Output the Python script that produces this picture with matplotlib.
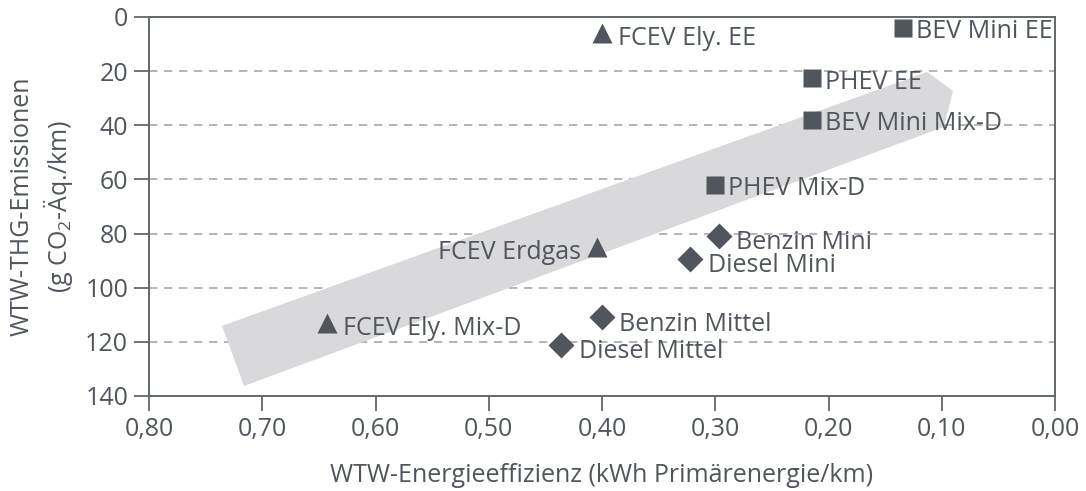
import matplotlib
matplotlib.use("Agg")
import matplotlib.pyplot as plt
from matplotlib.patches import Polygon

plt.rcParams['font.family'] = ['Open Sans', 'DejaVu Sans']
plt.rcParams['mathtext.fontset'] = 'custom'
plt.rcParams['mathtext.rm'] = 'Open Sans'
plt.rcParams['mathtext.it'] = 'Open Sans'

# --- data ---
tri_labels = ["FCEV Ely. EE", "FCEV Erdgas", "FCEV Ely. Mix-D"]
tri_x = [0.400, 0.404, 0.643]
tri_y = [6, 85, 113]

sq_labels = ["BEV Mini EE", "PHEV EE", "BEV Mini Mix-D", "PHEV Mix-D"]
sq_x = [0.134, 0.215, 0.215, 0.300]
sq_y = [4, 22.7, 38, 62]

dia_labels = ["Benzin Mini", "Diesel Mini", "Benzin Mittel", "Diesel Mittel"]
dia_x = [0.297, 0.322, 0.400, 0.436]
dia_y = [81, 89.5, 111, 121]

band_x = [0.7355, 0.7161, 0.098, 0.090, 0.113]
band_y = [114.1, 136.3, 40.6, 27.3, 20.3]

x_ticks = [0.8, 0.7, 0.6, 0.5, 0.4, 0.3, 0.2, 0.1, 0.0]
x_ticklabels = ["0,80", "0,70", "0,60", "0,50", "0,40", "0,30", "0,20", "0,10", "0,00"]
y_ticks = [0, 20, 40, 60, 80, 100, 120, 140]

dark = "#50555e"
axcol = "#62676e"
gridcol = "#a6a8ab"
bandcol = "#d9d9db"
fs = 18

fig = plt.figure(figsize=(10.86, 4.91), dpi=100)
ax = fig.add_axes([149/1086, 1-396/491, (1055-149)/1086, (396-17)/491])

ax.set_xlim(0.8, 0.0)
ax.set_ylim(140, 0)

band = Polygon(list(zip(band_x, band_y)), closed=True, facecolor=bandcol, edgecolor='none', zorder=2)
ax.add_patch(band)

for yv in y_ticks[1:-1]:
    ax.axhline(yv, color=gridcol, lw=1.2, ls=(0, (5, 4)), zorder=1)

ax.plot(tri_x, tri_y, ls='none', marker='^', ms=15, color=dark, mec='none', zorder=4)
ax.plot(sq_x, sq_y, ls='none', marker='s', ms=13, color=dark, mec='none', zorder=4)
ax.plot(dia_x, dia_y, ls='none', marker='D', ms=13, color=dark, mec='none', zorder=4)

for lab, x, y in zip(tri_labels, tri_x, tri_y):
    if lab == "FCEV Erdgas":
        ax.annotate(lab, (x, y), xytext=(-12, -8.5), textcoords='offset points',
                    ha='right', va='baseline', fontsize=fs, color=dark, zorder=5)
    else:
        ax.annotate(lab, (x, y), xytext=(11.5, -8.5), textcoords='offset points',
                    ha='left', va='baseline', fontsize=fs, color=dark, zorder=5)
for lab, x, y in zip(sq_labels, sq_x, sq_y):
    ax.annotate(lab, (x, y), xytext=(9.5, -7.5), textcoords='offset points',
                ha='left', va='baseline', fontsize=fs, color=dark, zorder=5)
for lab, x, y in zip(dia_labels, dia_x, dia_y):
    ax.annotate(lab, (x, y), xytext=(12.5, -9.5), textcoords='offset points',
                ha='left', va='baseline', fontsize=fs, color=dark, zorder=5)

ax.set_xticks(x_ticks)
ax.set_xticklabels(x_ticklabels)
ax.set_yticks(y_ticks)
ax.tick_params(axis='both', direction='out', length=11, width=1.3, color=axcol,
               labelsize=fs, labelcolor=dark, pad=4)
for s in ax.spines.values():
    s.set_color(axcol)
    s.set_linewidth(1.4)

ax.set_xlabel("WTW-Energieeffizienz (kWh Primärenergie/km)", fontsize=fs, color=dark, labelpad=15)
ax.set_ylabel("WTW-THG-Emissionen\n(g CO$_2$-Äq./km)", fontsize=fs, color=dark, labelpad=7,
              linespacing=1.25)

fig.savefig("out.png", dpi=100)
